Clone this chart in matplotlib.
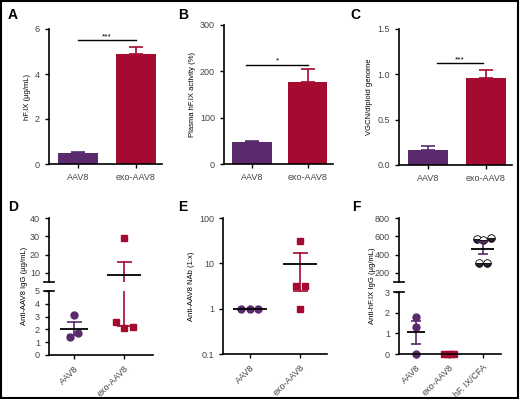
import matplotlib

matplotlib.use("Agg")
import matplotlib.pyplot as plt
import numpy as np
from matplotlib.patches import Rectangle

plt.rcParams["font.family"] = ["Liberation Sans", "DejaVu Sans"]

PURPLE = "#5a2a6c"
RED = "#a50a31"
TICKC = "#444444"

# --- data ---
groups = ["AAV8", "exo-AAV8"]

a_mean = [0.48, 4.88]
a_err = [0.04, 0.30]
b_mean = [47, 178]
b_err = [2, 26]
c_mean = [0.16, 0.96]
c_err = [0.05, 0.09]

d_aav8 = [3.1, 1.4, 1.7]
d_exo = [29.0, 2.6, 2.1, 2.2]
d_means = [2.07, 9.0]
d_lo = [1.55, 2.3]
d_hi = [2.6, 15.7]

e_aav8 = [1.0, 1.0, 1.0]
e_exo = [31.0, 3.1, 3.1, 1.0]
e_mean_exo = 9.6
e_lo_exo = 2.4
e_hi_exo = 17.0

f_groups = ["AAV8", "exo-AAV8", "hF. IX/CFA"]
f_aav8 = [1.8, 1.3, 0.0]
f_exo = [0.0, 0.0, 0.0, 0.0]
f_cfa = [575, 555, 580, 310, 310]
f_means = [1.05, 0.0, 465]
f_lo = [0.5, 0.0, 410]
f_hi = [1.6, 0.0, 540]

W, H = 520, 399
fig = plt.figure(figsize=(W / 100, H / 100), dpi=100)


def px(l, r, t, b):
    return [l / W, 1 - b / H, (r - l) / W, (b - t) / H]


def style(ax, spines=("left", "bottom")):
    for s in ["top", "right", "left", "bottom"]:
        ax.spines[s].set_visible(s in spines)
        ax.spines[s].set_linewidth(1.2)
    ax.tick_params(labelsize=6.5, colors="black", labelcolor=TICKC, length=3, width=1)


def letter(x, y, s):
    fig.text(x / W, 1 - y / H, s, fontsize=10, fontweight="bold", ha="left", va="center")


def bar_panel(rect, means, errs, ylim, yticks, ylabel, sig_y, sig_x, stars, fmt=None):
    ax = fig.add_axes(px(*rect))
    x = np.arange(2)
    cols = [PURPLE, RED]
    ax.bar(x, means, width=0.7, color=cols)
    for xi, m, e, c in zip(x, means, errs, cols):
        ax.errorbar(xi, m, yerr=[[0], [e]], color=c, capsize=5, elinewidth=1.2, capthick=1.2)
    ax.set_xlim(-0.5, 1.45)
    ax.set_ylim(*ylim)
    ax.set_yticks(yticks)
    if fmt:
        ax.set_yticklabels([fmt.format(v) for v in yticks])
    ax.set_xticks(x)
    ax.set_xticklabels(groups)
    ax.set_ylabel(ylabel, fontsize=5.5, labelpad=3)
    ax.plot(sig_x, [sig_y, sig_y], color="black", lw=1)
    ax.text(np.mean(sig_x), sig_y, stars, ha="center", va="bottom", fontsize=6)
    style(ax)
    return ax


bar_panel((49, 162, 29, 164), a_mean, a_err, (0, 6), [0, 2, 4, 6], "hF.IX (µg/mL)",
          5.5, [0, 1], "***")
bar_panel((224, 333, 25, 164), b_mean, b_err, (0, 300), [0, 100, 200, 300],
          "Plasma hF.IX activity (%)", 214, [-0.1, 1.0], "*")
bar_panel((399, 512, 29, 165), c_mean, c_err, (0, 1.5), [0, 0.5, 1.0, 1.5],
          "VGCN/diploid genome", 1.125, [0.15, 0.95], "***", fmt="{:.1f}")

letter(8, 15, "A")
letter(178, 15, "B")
letter(350, 15, "C")
letter(8, 207, "D")
letter(178, 207, "E")
letter(352, 207, "F")


def break_marks(ax, where):
    y = 0 if where == "bottom" else 1
    ax.plot([-0.05, 0.05], [y, y], transform=ax.transAxes, color="black", lw=1.2, clip_on=False)


def scatter_err(ax, x, mean, lo, hi, color, half=0.3):
    ax.plot([x, x], [lo, hi], color=color, lw=1.2)
    ax.hlines([lo, hi], x - 0.15, x + 0.15, color=color, lw=1.2)
    ax.hlines(mean, x - half, x + half, color="black", lw=1.3)


def pts(ax, xs, ys, lo, hi, marker, **kw):
    # only the points that fall inside this segment of a broken axis
    xs, ys = np.asarray(xs, float), np.asarray(ys, float)
    keep = (ys >= lo) & (ys <= hi)
    ax.plot(xs[keep], ys[keep], marker, clip_on=False, **kw)


# --- D: broken axis ---
d_top = fig.add_axes(px(49, 153, 218, 282))
d_bot = fig.add_axes(px(49, 153, 291, 355))
d_aav8_x = [0, -0.08, 0.08]
d_exo_x = [0, -0.16, 0, 0.18]
for ax, lim in ((d_top, (5, 40)), (d_bot, (0, 5))):
    pts(ax, d_aav8_x, d_aav8, *lim, "o", color=PURPLE, ms=5)
    pts(ax, 1 + np.array(d_exo_x), d_exo, *lim, "s", color=RED, ms=5)
    scatter_err(ax, 0, d_means[0], d_lo[0], d_hi[0], PURPLE, half=0.28)
    scatter_err(ax, 1, d_means[1], d_lo[1], d_hi[1], RED, half=0.34)
    ax.set_xlim(-0.5, 1.58)
    ax.set_ylim(*lim)
d_top.set_yticks([10, 20, 30, 40])
d_bot.set_yticks([0, 1, 2, 3, 4, 5])
style(d_top, spines=("left",))
style(d_bot)
d_top.set_xticks([])
d_bot.set_xticks([0, 1])
d_bot.set_xticklabels(groups, rotation=45, ha="right", rotation_mode="anchor")
break_marks(d_top, "bottom")
break_marks(d_bot, "top")
fig.text(25 / W, 1 - 286 / H, "Anti-AAV8 IgG (µg/mL)", rotation=90, fontsize=5.5,
         ha="center", va="center")

# --- E: log axis ---
e_ax = fig.add_axes(px(223, 327, 218, 354))
e_ax.set_yscale("log")
e_ax.plot([-0.18, 0, 0.16], e_aav8, "o", color=PURPLE, ms=5)
e_ax.hlines(1, -0.34, 0.34, color="black", lw=1.3)
e_ax.plot(1 + np.array([0, -0.09, 0.09, 0]), e_exo, "s", color=RED, ms=5)
scatter_err(e_ax, 1, e_mean_exo, e_lo_exo, e_hi_exo, RED, half=0.34)
e_ax.set_ylim(0.1, 100)
e_ax.set_yticks([0.1, 1, 10, 100])
e_ax.set_yticklabels(["0.1", "1", "10", "100"])
e_ax.minorticks_off()
e_ax.set_xlim(-0.54, 1.54)
e_ax.set_xticks([0, 1])
e_ax.set_xticklabels(groups, rotation=45, ha="right", rotation_mode="anchor")
e_ax.set_ylabel("Anti-AAV8 NAb (1:x)", fontsize=5.5, labelpad=3)
style(e_ax)

# --- F: broken axis ---
f_top = fig.add_axes(px(399, 501, 218, 282))
f_bot = fig.add_axes(px(399, 501, 292, 354))
for ax, lim in ((f_top, (100, 800)), (f_bot, (0, 3))):
    pts(ax, [0, 0, 0], f_aav8, *lim, "o", color=PURPLE, ms=5)
    pts(ax, 1 + np.array([-0.15, -0.05, 0.05, 0.15]), f_exo, *lim, "s", color=RED, ms=5)
    pts(ax, 2 + np.array([-0.18, 0, 0.24, -0.12, 0.12]), f_cfa, *lim, "o", ms=5.5,
        color="#2a1f2e", fillstyle="bottom", markerfacecoloralt="white",
        markeredgecolor="black", markeredgewidth=0.6)
    scatter_err(ax, 0, f_means[0], f_lo[0], f_hi[0], PURPLE, half=0.27)
    scatter_err(ax, 2, f_means[2], f_lo[2], f_hi[2], PURPLE, half=0.34)
    ax.set_xlim(-0.5, 2.54)
    ax.set_ylim(*lim)
f_top.set_yticks([200, 400, 600, 800])
f_bot.set_yticks([0, 1, 2, 3])
style(f_top, spines=("left",))
style(f_bot)
f_top.set_xticks([])
f_bot.set_xticks([0, 1, 2])
f_bot.set_xticklabels(f_groups, rotation=45, ha="right", rotation_mode="anchor")
break_marks(f_top, "bottom")
break_marks(f_bot, "top")
fig.text(372 / W, 1 - 286 / H, "Anti-hF.IX IgG (µg/mL)", rotation=90, fontsize=5.5,
         ha="center", va="center")

# frame round the whole figure
fig.patches.append(Rectangle((0.002, 0.003), 0.995, 0.994, transform=fig.transFigure,
                             fill=False, edgecolor="black", lw=1.5))

fig.savefig("out.png", dpi=100)
